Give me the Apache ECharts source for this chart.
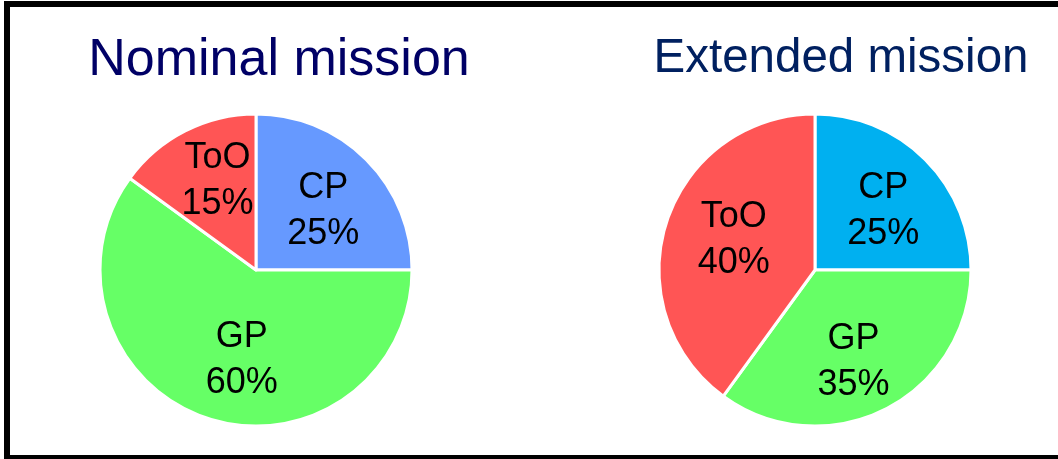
<!DOCTYPE html>
<html>
<head>
<meta charset="utf-8">
<script src="https://cdn.jsdelivr.net/npm/echarts@6/dist/echarts.min.js"></script>
<style>
html,body{margin:0;padding:0;background:#fff;}
#chart{width:1058px;height:459px;}
</style>
</head>
<body>
<div id="chart"></div>
<script>
const categories = ['CP', 'GP', 'ToO'];
const nominalValues = [25, 60, 15];
const extendedValues = [25, 35, 40];
const titles = ['Nominal mission', 'Extended mission'];
const nominalColors = ['#6699FF', '#66FF66', '#FF5555'];
const extendedColors = ['#00B0F0', '#66FF66', '#FF5555'];
// small label nudges to match the reference placement
const nominalLabelOffsets = [[-2, 10], [16, -3], [6, -2]];
const extendedLabelOffsets = [[-1, 10], [-6, 5], [12, 0]];

function mkData(values, colors) {
  return categories.map((c, i) => ({ name: c, value: values[i], itemStyle: { color: colors[i] } }));
}
function mkLabelData(values, offsets) {
  return categories.map((c, i) => ({ name: c, value: values[i], label: { offset: offsets[i] } }));
}

const chart = echarts.init(document.getElementById('chart'));
const font = 'Liberation Sans, Arial, sans-serif';
const R = 156;
function pies(center, values, colors, offsets) {
  return [
    {
      type: 'pie', center: center, radius: [0, R], startAngle: 90, clockwise: true,
      silent: true, animation: false,
      itemStyle: { borderColor: '#fff', borderWidth: 3 },
      label: { show: false }, labelLine: { show: false },
      data: mkData(values, colors)
    },
    {
      type: 'pie', center: center, radius: [0, 190], startAngle: 90, clockwise: true,
      silent: true, animation: false, z: 5,
      itemStyle: { color: 'rgba(0,0,0,0)', borderWidth: 0 },
      label: {
        show: true, position: 'inside', formatter: '{b}\n{c}%',
        color: '#000', fontFamily: font, fontSize: 36, lineHeight: 46
      },
      labelLine: { show: false },
      data: mkLabelData(values, offsets)
    }
  ];
}

chart.setOption({
  animation: false,
  backgroundColor: '#fff',
  graphic: [
    { type: 'rect', shape: { x: 7, y: 4, width: 1060, height: 454 },
      style: { fill: 'none', stroke: '#000', lineWidth: 6 }, z: 100 },
    { type: 'text', x: 279, y: 61,
      style: { text: titles[0], fill: '#000066', font: '52px ' + font, textAlign: 'center', textVerticalAlign: 'middle' } },
    { type: 'text', x: 841, y: 59,
      style: { text: titles[1], fill: '#002060', font: '47.5px ' + font, textAlign: 'center', textVerticalAlign: 'middle' } }
  ],
  series: [].concat(
    pies([256, 270], nominalValues, nominalColors, nominalLabelOffsets),
    pies([815, 270], extendedValues, extendedColors, extendedLabelOffsets)
  )
});
</script>
</body>
</html>
